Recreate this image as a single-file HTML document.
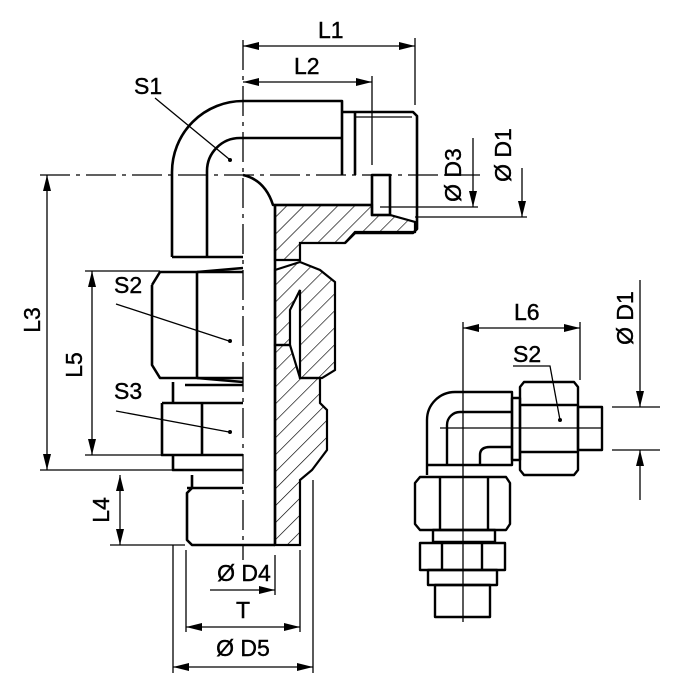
<!DOCTYPE html>
<html><head><meta charset="utf-8"><style>
html,body{margin:0;padding:0;background:#fff;}
svg{display:block;}
text{font-family:"Liberation Sans",Arial,sans-serif;font-size:23px;fill:#000;stroke:#000;stroke-width:0.4;}
</style></head><body>
<svg width="676" height="697" viewBox="0 0 676 697" xmlns="http://www.w3.org/2000/svg">
<defs>
<pattern id="h" width="12" height="12" patternUnits="userSpaceOnUse" patternTransform="rotate(45)">
<line x1="0" y1="0" x2="0" y2="12" stroke="#000" stroke-width="1.3"/>
</pattern>
</defs>
<g fill="none" stroke="#000" stroke-width="1.3">
<line x1="243" y1="40" x2="243" y2="560" stroke-dasharray="30,6,4,6"/>
<line x1="40" y1="175" x2="480" y2="175" stroke-dasharray="30,6,4,6"/>
<line x1="243" y1="46" x2="415" y2="46"/>
<line x1="415" y1="38" x2="415" y2="105"/>
<line x1="243" y1="82" x2="372" y2="82"/>
<line x1="372" y1="76" x2="372" y2="165"/>
<line x1="47" y1="175" x2="47" y2="470"/>
<line x1="40" y1="470" x2="178" y2="470"/>
<line x1="92" y1="271" x2="92" y2="455"/>
<line x1="85" y1="271" x2="160" y2="271"/>
<line x1="85" y1="455" x2="165" y2="455"/>
<line x1="120" y1="475" x2="120" y2="545"/>
<line x1="110" y1="545" x2="185" y2="545"/>
<line x1="473" y1="138" x2="473" y2="207"/>
<line x1="380" y1="207" x2="478" y2="207"/>
<line x1="522" y1="168" x2="522" y2="217"/>
<line x1="415" y1="217" x2="527" y2="217"/>
<line x1="210" y1="590" x2="275" y2="590"/>
<line x1="275" y1="555" x2="275" y2="595"/>
<line x1="186" y1="627" x2="300" y2="627"/>
<line x1="186" y1="550" x2="186" y2="632"/>
<line x1="300" y1="550" x2="300" y2="632"/>
<line x1="173" y1="667" x2="313" y2="667"/>
<line x1="173" y1="545" x2="173" y2="673"/>
<line x1="313" y1="480" x2="313" y2="673"/>
<line x1="155" y1="98" x2="229" y2="159"/>
<line x1="116" y1="304" x2="229" y2="341"/>
<line x1="116" y1="411" x2="229" y2="432"/>
<line x1="355" y1="117" x2="412" y2="117"/>
</g>
<g fill="#000">
<circle cx="230" cy="160" r="2"/><circle cx="230" cy="341" r="2"/><circle cx="230" cy="432" r="2"/><circle cx="560" cy="420" r="2"/>
<polygon points="243,46 259,42 259,50"/><polygon points="415,46 399,42 399,50"/>
<polygon points="243,82 259,78 259,86"/><polygon points="372,82 356,78 356,86"/>
<polygon points="47,175 43,191 51,191"/><polygon points="47,470 43,454 51,454"/>
<polygon points="92,271 88,287 96,287"/><polygon points="92,455 88,439 96,439"/>
<polygon points="120,475 116,491 124,491"/><polygon points="120,545 116,529 124,529"/>
<polygon points="473,207 469,191 477,191"/><polygon points="522,217 518,201 526,201"/>
<polygon points="275,590 259,586 259,594"/>
<polygon points="186,627 202,623 202,631"/><polygon points="300,627 284,623 284,631"/>
<polygon points="173,667 189,663 189,671"/><polygon points="313,667 297,663 297,671"/>
<polygon points="463,328 479,324 479,332"/><polygon points="580,328 564,324 564,332"/>
<polygon points="640,407 636,391 644,391"/><polygon points="640,450 636,466 644,466"/>
</g>

<g stroke="#000" stroke-width="2.2" fill="url(#h)">
<path d="M275,205 L372,205 L372,215 L390,215 L415,222 L415,232 L355,232 L345,243 L300,243 L300,260 L275,260 Z"/>
<path d="M275,270 L300,262 L320,270 L335,282 L335,370 L322,378 L300,378 L300,290 L290,310 L290,345 L275,345 Z"/>
<path d="M275,345 L290,345 L300,378 L320,378 L320,403 L327,410 L327,450 L312,470 L300,480 L300,545 L275,545 Z"/>
</g>
<g fill="none" stroke="#000" stroke-width="2.6" stroke-linejoin="round">
<path d="M172,257 L172,172 A71,71 0 0 1 243,101 L342,101 L342,175"/>
<line x1="355" y1="112" x2="355" y2="175"/>
<path d="M207,257 L207,171 A33,33 0 0 1 240,138 L342,138"/>
<path d="M243,175 Q265,180 273,205 L372,205"/>
<path d="M342,112 L413,112 L417,116 L417,229 L413,233 L355,233 L345,243"/>
<rect x="372" y="175" width="18" height="40"/>
<line x1="172" y1="257" x2="243" y2="257"/>
<line x1="275" y1="205" x2="275" y2="545"/>
<path d="M152,285 L160,272 L243,272 M152,285 L152,365 L160,378 L243,378"/>
<line x1="197" y1="272" x2="197" y2="378"/>
<path d="M197,272 L243,268 M197,378 L243,382"/>
<line x1="185" y1="385" x2="243" y2="385"/>
<path d="M162,403 L243,403 M162,403 L162,455 L243,455"/>
<line x1="202" y1="403" x2="202" y2="455"/>
<path d="M173,455 L173,470 L243,470"/>
<path d="M192,475 L192,488 L187,493 L187,540 L192,545 L275,545"/>
<line x1="187" y1="488" x2="243" y2="488"/>
<line x1="173" y1="382" x2="173" y2="403"/>
</g>

<g fill="none" stroke="#000" stroke-width="1.3">
<line x1="463" y1="322" x2="463" y2="622"/>
<line x1="440" y1="428" x2="602" y2="428"/>
<line x1="463" y1="328" x2="580" y2="328"/>
<line x1="580" y1="322" x2="580" y2="380"/>
<line x1="640" y1="280" x2="640" y2="407"/>
<line x1="640" y1="500" x2="640" y2="450"/>
<line x1="612" y1="407" x2="660" y2="407"/>
<line x1="612" y1="450" x2="660" y2="450"/>
<path d="M513,366 L550,366 L560,420"/>
</g>
<g fill="none" stroke="#000" stroke-width="2.4" stroke-linejoin="round">
<path d="M427,475 L427,420 A28,28 0 0 1 455,392 L512,392 L512,465 L427,465"/>
<path d="M447,465 L447,425 A13,13 0 0 1 460,412 L512,412"/>
<path d="M480,465 L480,455 Q480,447 490,447 L512,447"/>
<rect x="512" y="398" width="8" height="62"/>
<path d="M524,382 L574,382 L578,387 L578,470 L574,475 L524,475 L520,470 L520,387 Z"/>
<line x1="520" y1="405" x2="578" y2="405"/><line x1="520" y1="452" x2="578" y2="452"/>
<rect x="578" y="407" width="24" height="43"/>
<path d="M420,477 L506,477 L510,483 L510,524 L506,530 L420,530 L415,524 L415,483 Z"/>
<line x1="440" y1="477" x2="440" y2="530"/><line x1="488" y1="477" x2="488" y2="530"/>
<rect x="433" y="530" width="62" height="12"/>
<rect x="420" y="543" width="85" height="27"/>
<line x1="442" y1="543" x2="442" y2="570"/><line x1="482" y1="543" x2="482" y2="570"/>
<rect x="428" y="570" width="69" height="15"/>
<rect x="435" y="585" width="55" height="32"/>
</g>

<text x="318" y="38">L1</text>
<text x="294" y="74">L2</text>
<text x="134" y="94">S1</text>
<text x="114" y="293">S2</text>
<text x="114" y="399">S3</text>
<text x="514" y="320">L6</text>
<text x="513" y="362">S2</text>
<text transform="translate(40,320) rotate(-90)" text-anchor="middle">L3</text>
<text transform="translate(82,365) rotate(-90)" text-anchor="middle">L5</text>
<text transform="translate(109,510) rotate(-90)" text-anchor="middle">L4</text>
<text transform="translate(461,175) rotate(-90)" text-anchor="middle">Ø D3</text>
<text transform="translate(511,155) rotate(-90)" text-anchor="middle">Ø D1</text>
<text transform="translate(633,318) rotate(-90)" text-anchor="middle">Ø D1</text>
<text x="244" y="581" text-anchor="middle">Ø D4</text>
<text x="243" y="618" text-anchor="middle">T</text>
<text x="243" y="656" text-anchor="middle">Ø D5</text>
</svg>
</body></html>
